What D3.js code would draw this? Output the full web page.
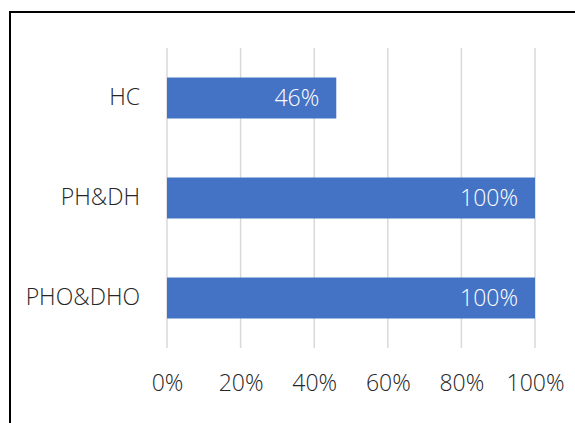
<!DOCTYPE html>
<html>
<head>
<meta charset="utf-8">
<script src="https://cdn.jsdelivr.net/npm/d3@7"></script>
<style>
  html, body { margin: 0; padding: 0; background: #fff; }
  svg { display: block; }
  text { font-family: "Open Sans", sans-serif; font-weight: 300; font-style: normal; }
</style>
</head>
<body>
<svg id="chart" width="575" height="423"></svg>
<script>
const categories = ["HC", "PH&DH", "PHO&DHO"];
const values = [0.46, 1.00, 1.00];
const tickValues = [0, 0.2, 0.4, 0.6, 0.8, 1.0];

const svg = d3.select("#chart");
const fontSize = 23;

// chart frame
svg.append("rect")
  .attr("x", 10).attr("y", 12)
  .attr("width", 600).attr("height", 500)
  .attr("fill", "#fff")
  .attr("stroke", "#000")
  .attr("stroke-width", 2);

const plot = { left: 167, right: 535, top: 48, bottom: 348 };

const x = d3.scaleLinear().domain([0, 1]).range([plot.left, plot.right]);
const y = d3.scaleBand().domain(categories).range([plot.top, plot.bottom]).paddingInner(0.59).paddingOuter(0.295);

// vertical gridlines
svg.append("g")
  .selectAll("line")
  .data(tickValues)
  .join("line")
  .attr("x1", d => x(d)).attr("x2", d => x(d))
  .attr("y1", plot.top).attr("y2", plot.bottom)
  .attr("stroke", "#d9d9d9")
  .attr("stroke-width", 1.5);

// x axis labels
const xAxis = d3.axisBottom(x)
  .tickValues(tickValues)
  .tickFormat(d3.format(".0%"))
  .tickSize(0)
  .tickPadding(0);
const gx = svg.append("g")
  .attr("transform", `translate(0,${plot.bottom + 35})`)
  .call(xAxis);
gx.select(".domain").remove();
gx.selectAll("text")
  .attr("font-size", fontSize)
  .attr("fill", "#262626")
  .attr("dy", "0.35em")
  .style("font-family", "'Open Sans', sans-serif")
  .style("font-weight", 300)
  .style("font-style", "normal");

// y axis labels
const yAxis = d3.axisLeft(y).tickSize(0).tickPadding(27);
const gy = svg.append("g")
  .attr("transform", `translate(${plot.left},0)`)
  .call(yAxis);
gy.select(".domain").remove();
gy.selectAll("text")
  .attr("font-size", fontSize)
  .attr("fill", "#262626")
  .style("font-family", "'Open Sans', sans-serif")
  .style("font-weight", 300)
  .style("font-style", "normal");

// bars
svg.append("g")
  .selectAll("rect")
  .data(categories)
  .join("rect")
  .attr("x", x(0))
  .attr("y", d => y(d))
  .attr("width", (d, i) => x(values[i]) - x(0))
  .attr("height", y.bandwidth())
  .attr("fill", "#4472C4");

// value labels
svg.append("g")
  .selectAll("text")
  .data(categories)
  .join("text")
  .attr("x", (d, i) => x(values[i]) - 17)
  .attr("y", d => y(d) + y.bandwidth() / 2)
  .attr("dy", "0.35em")
  .attr("text-anchor", "end")
  .attr("font-size", fontSize)
  .attr("fill", "#fff")
  .text((d, i) => d3.format(".0%")(values[i]));
</script>
</body>
</html>
